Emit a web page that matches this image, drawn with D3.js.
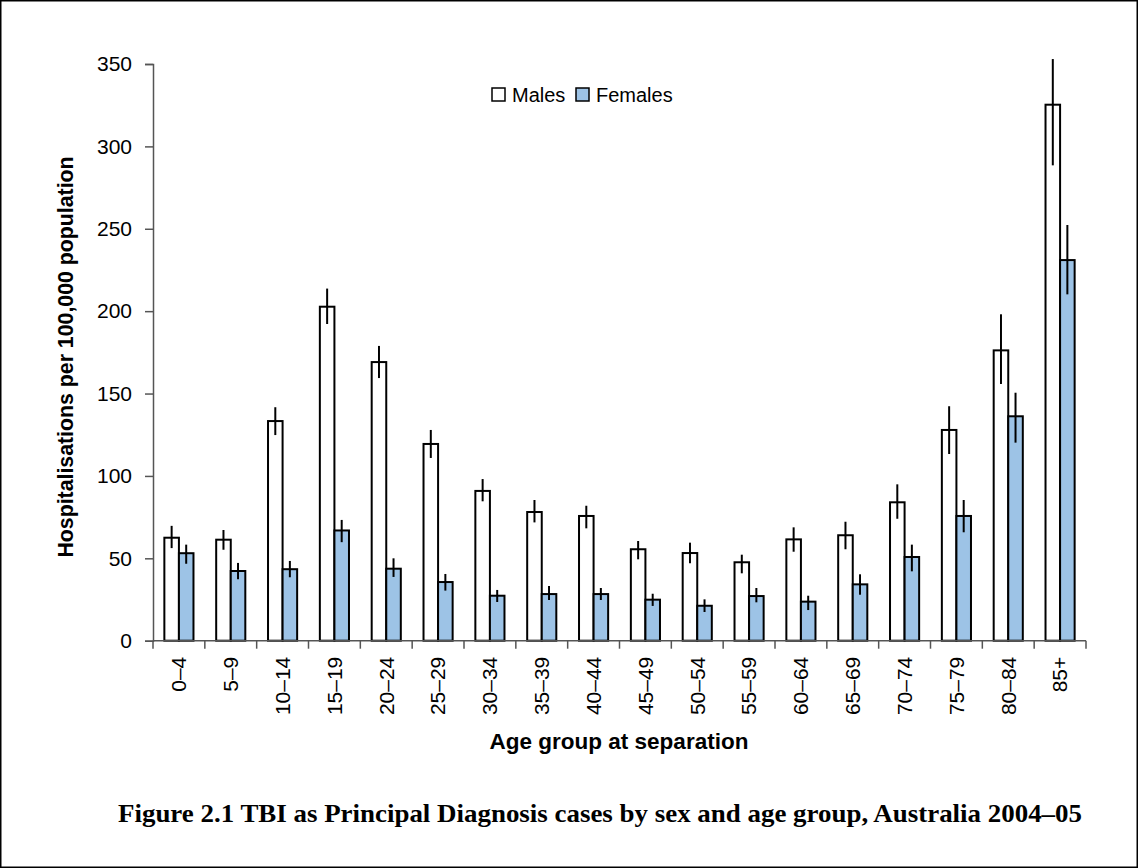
<!DOCTYPE html>
<html>
<head>
<meta charset="utf-8">
<script src="https://cdn.jsdelivr.net/npm/d3@7"></script>
<style>
  html, body { margin: 0; padding: 0; background: #fff; }
  svg { display: block; }
  text { font-family: "Liberation Sans", Arial, sans-serif; fill: #000; }
</style>
</head>
<body>
<svg id="chart" width="1138" height="868"></svg>
<script>
// Age groups at separation
const categories = ["0–4","5–9","10–14","15–19","20–24","25–29","30–34","35–39","40–44",
                    "45–49","50–54","55–59","60–64","65–69","70–74","75–79","80–84","85+"];

// Hospitalisations per 100,000 population, with 95% confidence limits
const males      = [62.5, 61.3, 133.3, 202.7, 169.1, 119.4, 90.9, 78.1, 75.7, 55.5, 53.2, 47.6, 61.5, 64.0, 84.0, 127.9, 176.2, 325.3];
const malesLow   = [56.2, 55.2, 124.8, 192.2, 159.4, 110.9, 84.6, 71.8, 68.2, 49.4, 47.0, 40.9, 54.0, 55.5, 74.0, 113.3, 155.8, 288.5];
const malesHigh  = [69.7, 67.2, 141.7, 213.7, 178.9, 127.9, 98.1, 85.4, 81.9, 60.5, 59.5, 52.2, 68.8, 72.2, 94.9, 142.3, 198.1, 353.0];
const females     = [53.1, 42.3, 43.4, 66.9, 43.7, 35.6, 27.3, 28.3, 28.3, 24.9, 21.2, 27.1, 23.7, 34.2, 50.8, 75.7, 136.2, 231.0];
const femalesLow  = [46.7, 37.3, 38.5, 59.8, 38.7, 30.4, 23.5, 24.7, 24.7, 21.1, 17.4, 23.3, 18.6, 27.9, 42.1, 65.8, 120.2, 210.2];
const femalesHigh = [58.3, 47.2, 48.4, 73.3, 50.0, 40.5, 30.8, 33.2, 32.0, 28.5, 25.1, 32.0, 27.3, 40.3, 58.3, 85.4, 150.5, 252.3];

const seriesNames = ["Males", "Females"];
const yTicks = [0, 50, 100, 150, 200, 250, 300, 350];

const yTitle = "Hospitalisations per 100,000 population";
const xTitle = "Age group at separation";
const caption = "Figure 2.1 TBI as Principal Diagnosis cases by sex and age group, Australia 2004–05";

const W = 1138, H = 868;
const plot = { left: 153, right: 1086, top: 64, bottom: 640.7 };
const fills = { Males: "#ffffff", Females: "#9dc3e6" };
const axisColor = "#555555";

const svg = d3.select("#chart");

// outer frame
svg.append("rect")
  .attr("x", 0.75).attr("y", 0.75)
  .attr("width", W - 1.5).attr("height", H - 1.5)
  .attr("fill", "#fff").attr("stroke", "#000").attr("stroke-width", 1.5);

const x = d3.scaleBand().domain(categories).range([plot.left, plot.right]).paddingInner(0).paddingOuter(0);
const xs = d3.scaleBand().domain(seriesNames).range([0, x.bandwidth()]).paddingInner(0).paddingOuter(0.78);
const y = d3.scaleLinear().domain([0, 350]).range([plot.bottom, plot.top]);

const rows = categories.map((c, i) => ({
  cat: c,
  values: [
    { s: "Males", v: males[i], lo: malesLow[i], hi: malesHigh[i] },
    { s: "Females", v: females[i], lo: femalesLow[i], hi: femalesHigh[i] }
  ]
}));

// bars
const groups = svg.append("g").selectAll("g").data(rows).join("g")
  .attr("transform", d => `translate(${x(d.cat)},0)`);

groups.selectAll("rect").data(d => d.values).join("rect")
  .attr("x", d => xs(d.s))
  .attr("y", d => y(d.v))
  .attr("width", xs.bandwidth())
  .attr("height", d => y(0) - y(d.v))
  .attr("fill", d => fills[d.s])
  .attr("stroke", "#000")
  .attr("stroke-width", 2);

// confidence intervals
groups.selectAll("line.err").data(d => d.values).join("line")
  .attr("class", "err")
  .attr("x1", d => xs(d.s) + xs.bandwidth() / 2)
  .attr("x2", d => xs(d.s) + xs.bandwidth() / 2)
  .attr("y1", d => y(d.hi))
  .attr("y2", d => y(d.lo))
  .attr("stroke", "#000")
  .attr("stroke-width", 2);

// y axis
const yAxis = svg.append("g")
  .attr("transform", `translate(${plot.left},0)`)
  .call(d3.axisLeft(y).tickValues(yTicks).tickSize(8).tickPadding(13).tickFormat(d3.format("d")));
yAxis.select(".domain").attr("stroke", axisColor).attr("stroke-width", 1.5);
yAxis.selectAll(".tick line").attr("stroke", axisColor).attr("stroke-width", 1.5);
yAxis.selectAll(".tick text")
  .style("font-family", "'Liberation Sans', Arial, sans-serif")
  .style("font-size", "21px").attr("fill", "#000");

// x axis: domain line with ticks at category boundaries
const xAxisG = svg.append("g").attr("transform", `translate(0,${plot.bottom})`);
xAxisG.append("line")
  .attr("x1", plot.left).attr("x2", plot.right)
  .attr("y1", 0).attr("y2", 0)
  .attr("stroke", axisColor).attr("stroke-width", 1.5);
const boundaries = categories.map(c => x(c)).concat([plot.right]);
xAxisG.selectAll("line.tick").data(boundaries).join("line")
  .attr("class", "tick")
  .attr("x1", d => d).attr("x2", d => d)
  .attr("y1", 0).attr("y2", 8)
  .attr("stroke", axisColor).attr("stroke-width", 1.5);
xAxisG.selectAll("text").data(categories).join("text")
  .attr("transform", d => `translate(${x(d) + x.bandwidth() / 2},16) rotate(-90)`)
  .attr("text-anchor", "end")
  .attr("dy", "0.35em")
  .style("font-size", "21px")
  .text(d => d);

// axis titles
svg.append("text")
  .attr("transform", "translate(66,357) rotate(-90)")
  .attr("text-anchor", "middle")
  .attr("dy", "0.35em")
  .style("font-size", "21.3px").style("font-weight", "bold")
  .text(yTitle);

svg.append("text")
  .attr("x", 619).attr("y", 741)
  .attr("text-anchor", "middle")
  .attr("dy", "0.35em")
  .style("font-size", "22.5px").style("font-weight", "bold")
  .text(xTitle);

// legend
const legend = svg.append("g").attr("transform", "translate(492,88)");
const legendOffsets = [0, 84];
seriesNames.forEach((s, i) => {
  const g = legend.append("g").attr("transform", `translate(${legendOffsets[i]},0)`);
  g.append("rect").attr("x", 0).attr("y", 0).attr("width", 13).attr("height", 13)
    .attr("fill", fills[s]).attr("stroke", "#000").attr("stroke-width", 1.5);
  g.append("text").attr("x", 20).attr("y", 7).attr("dy", "0.35em")
    .style("font-size", "20px").text(s);
});

// caption
svg.append("text")
  .attr("x", 118).attr("y", 822)
  .attr("textLength", 964).attr("lengthAdjust", "spacingAndGlyphs")
  .style("font-family", "'Liberation Serif', 'DejaVu Serif', serif")
  .style("font-size", "25px").style("font-weight", "bold")
  .text(caption);
</script>
</body>
</html>
